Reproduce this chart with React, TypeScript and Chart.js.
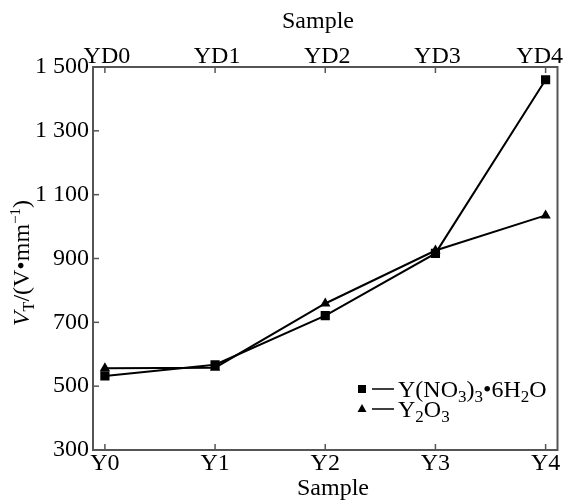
import React, { useEffect, useRef } from 'react';
import { Chart, registerables } from 'chart.js';

Chart.register(...registerables);

const bottomCategories = ['Y0', 'Y1', 'Y2', 'Y3', 'Y4'];
const topCategories = ['YD0', 'YD1', 'YD2', 'YD3', 'YD4'];
const nitrateValues = [532, 567, 721, 916, 1460];
const oxideValues = [556, 558, 759, 925, 1035];
const yTickValues = [300, 500, 700, 900, 1100, 1300, 1500];
const yTickLabels = ['300', '500', '700', '900', '1 100', '1 300', '1 500'];
const axisTitle = 'Sample';

const FONT = "'Liberation Serif', 'Times New Roman', Times, serif";

type Part = { t: string; size: number; dy?: number; italic?: boolean };

function measureParts(ctx: CanvasRenderingContext2D, parts: Part[]) {
  let w = 0;
  for (const p of parts) {
    ctx.font = `${p.italic ? 'italic ' : ''}${p.size}px ${FONT}`;
    w += ctx.measureText(p.t).width;
  }
  return w;
}

function drawParts(ctx: CanvasRenderingContext2D, parts: Part[], x: number, y: number) {
  let cx = x;
  ctx.textAlign = 'left';
  ctx.textBaseline = 'alphabetic';
  for (const p of parts) {
    ctx.font = `${p.italic ? 'italic ' : ''}${p.size}px ${FONT}`;
    ctx.fillText(p.t, cx, y + (p.dy || 0));
    cx += ctx.measureText(p.t).width;
  }
}

const decorPlugin = {
  id: 'decor',
  afterDraw(chart: any) {
    const { ctx, chartArea: a, scales, width } = chart;
    ctx.save();
    ctx.strokeStyle = '#555';
    ctx.lineWidth = 1.5;
    const line = (x1: number, y1: number, x2: number, y2: number) => {
      ctx.beginPath();
      ctx.moveTo(x1, y1);
      ctx.lineTo(x2, y2);
      ctx.stroke();
    };
    for (let i = 0; i < bottomCategories.length; i++) {
      const px = scales.x.getPixelForValue(i);
      line(px, a.bottom, px, a.bottom - 6);
      line(px, a.top, px, a.top + 6);
    }
    for (const v of yTickValues) {
      const py = scales.y.getPixelForValue(v);
      line(a.left, py, a.left + 6, py);
    }
    ctx.lineWidth = 2;
    ctx.strokeRect(a.left, a.top, a.right - a.left, a.bottom - a.top);

    ctx.fillStyle = '#000';
    ctx.font = `24px ${FONT}`;
    ctx.textBaseline = 'alphabetic';
    // top tick labels
    ctx.textAlign = 'center';
    for (let i = 0; i < topCategories.length; i++) {
      const px = scales.x.getPixelForValue(i);
      const w = ctx.measureText(topCategories[i]).width;
      const cx = Math.min(px + 2, width - w / 2 - 1);
      ctx.fillText(topCategories[i], cx, a.top - 4);
    }
    ctx.fillText(axisTitle, 318, 28);
    ctx.fillText(axisTitle, 333, 495);

    const yParts: Part[] = [
      { t: 'V', size: 24, italic: true },
      { t: 'T', size: 16, dy: 5 },
      { t: '/(V\u2022mm', size: 24 },
      { t: '\u22121', size: 15, dy: -9 },
      { t: ')', size: 24 },
    ];
    const yw = measureParts(ctx, yParts);
    ctx.save();
    ctx.translate(29, 263);
    ctx.rotate(-Math.PI / 2);
    drawParts(ctx, yParts, -yw / 2, 0);
    ctx.restore();

    const legendItems: { style: string; parts: Part[]; y: number }[] = [
      {
        style: 'rect',
        y: 389,
        parts: [
          { t: 'Y(NO', size: 24 },
          { t: '3', size: 17, dy: 5 },
          { t: ')', size: 24 },
          { t: '3', size: 17, dy: 5 },
          { t: '\u20226H', size: 24 },
          { t: '2', size: 17, dy: 5 },
          { t: 'O', size: 24 },
        ],
      },
      {
        style: 'triangle',
        y: 409,
        parts: [
          { t: 'Y', size: 24 },
          { t: '2', size: 17, dy: 5 },
          { t: 'O', size: 24 },
          { t: '3', size: 17, dy: 5 },
        ],
      },
    ];
    for (const item of legendItems) {
      const mx = 362;
      ctx.fillStyle = '#000';
      if (item.style === 'rect') {
        ctx.fillRect(mx - 4, item.y - 4, 8, 8);
      } else {
        ctx.beginPath();
        ctx.moveTo(mx, item.y - 5);
        ctx.lineTo(mx + 4.5, item.y + 3);
        ctx.lineTo(mx - 4.5, item.y + 3);
        ctx.closePath();
        ctx.fill();
      }
      ctx.strokeStyle = '#000';
      ctx.lineWidth = 1.5;
      line(372, item.y, 394, item.y);
      drawParts(ctx, item.parts, 398, item.y + 8);
    }
    ctx.restore();
  },
};

function fixH(h: number) {
  return (s: any) => {
    s.height = h;
    s.paddingLeft = 0;
    s.paddingRight = 0;
    s.paddingTop = 0;
    s.paddingBottom = 0;
  };
}

export default function App() {
  const ref = useRef<HTMLCanvasElement | null>(null);
  useEffect(() => {
    if (!ref.current) return;
    const xMin = -0.108;
    const xMax = 4.108;
    const tickFont = { family: FONT, size: 24 };
    const chart = new Chart(ref.current, {
      type: 'line',
      data: {
        datasets: [
          {
            label: 'Y(NO3)3·6H2O',
            data: nitrateValues.map((v, i) => ({ x: i, y: v })),
            borderColor: '#000',
            backgroundColor: '#000',
            borderWidth: 2,
            pointStyle: 'rect',
            pointRadius: 6.5,
            pointBackgroundColor: '#000',
            pointBorderWidth: 0,
            xAxisID: 'x',
            yAxisID: 'y',
          },
          {
            label: 'Y2O3',
            data: oxideValues.map((v, i) => ({ x: i, y: v })),
            borderColor: '#000',
            backgroundColor: '#000',
            borderWidth: 2,
            pointStyle: 'triangle',
            pointRadius: 6,
            pointBackgroundColor: '#000',
            pointBorderWidth: 0,
            xAxisID: 'x',
            yAxisID: 'y',
          },
        ],
      },
      options: {
        animation: false,
        responsive: false,
        maintainAspectRatio: false,
        devicePixelRatio: 1,
        layout: { padding: { left: 0, right: 3, top: 0, bottom: 0 } },
        plugins: { legend: { display: false }, tooltip: { enabled: false } },
        scales: {
          x: {
            type: 'linear',
            position: 'bottom',
            min: xMin,
            max: xMax,
            afterFit: fixH(50),
            grid: { display: false, drawTicks: false },
            border: { display: false },
            ticks: {
              stepSize: 1,
              includeBounds: false,
              autoSkip: false,
              maxRotation: 0,
              padding: -1,
              color: '#000',
              font: tickFont,
              callback: (v: any) => (Number.isInteger(v) ? bottomCategories[v] : null),
            },
          },
          x2: {
            type: 'linear',
            position: 'top',
            min: xMin,
            max: xMax,
            afterFit: fixH(67),
            grid: { display: false, drawTicks: false },
            border: { display: false },
            ticks: { display: false },
          },
          y: {
            type: 'linear',
            position: 'left',
            min: 300,
            max: 1500,
            afterFit: (s: any) => {
              s.width = 93;
              s.paddingTop = 0;
              s.paddingBottom = 0;
            },
            grid: { display: false, drawTicks: false },
            border: { display: false },
            ticks: {
              stepSize: 200,
              includeBounds: false,
              autoSkip: false,
              padding: 4,
              color: '#000',
              font: tickFont,
              callback: (v: any) => {
                const idx = yTickValues.indexOf(v);
                return idx >= 0 ? yTickLabels[idx] : null;
              },
            },
          },
        },
      },
      plugins: [decorPlugin],
    });
    return () => { chart.destroy(); };
  }, []);
  return (
    <div style={{ position: 'absolute', left: 0, top: 0, width: 564, height: 500, background: '#fff' }}>
      <canvas ref={ref} width={564} height={500} style={{ display: 'block', width: 564, height: 500 }} />
    </div>
  );
}
